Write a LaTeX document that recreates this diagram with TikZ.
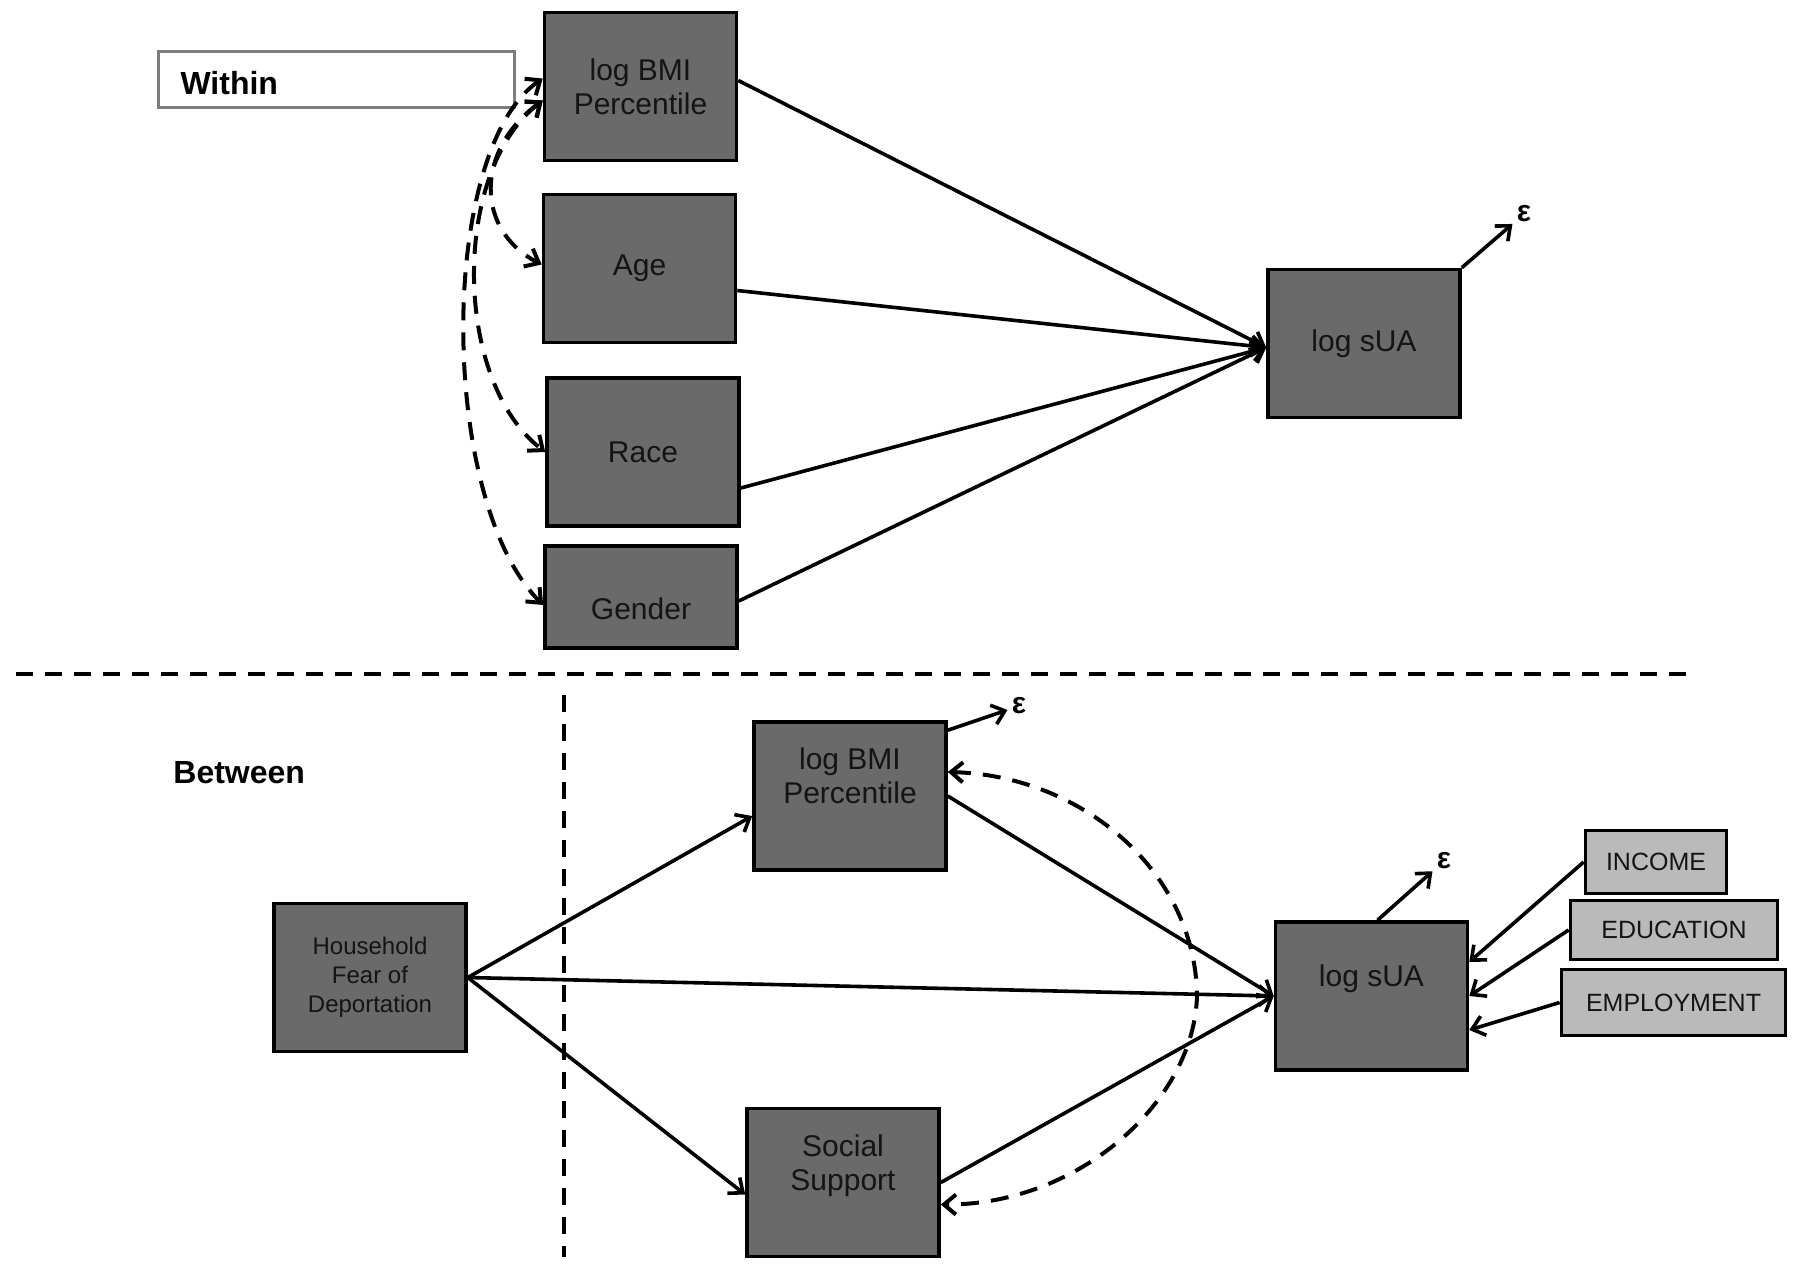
\documentclass[tikz,border=0pt]{standalone}
\usepackage{fontspec}
\setmainfont{Liberation Sans}
\usetikzlibrary{arrows.meta}
\definecolor{boxgrey}{RGB}{106,106,106}
\definecolor{lightgrey}{RGB}{186,186,186}
\definecolor{framegrey}{RGB}{125,125,125}
\newcommand{\shiftup}[2]{\raisebox{#1}[\height][\depth]{\begin{tabular}{@{}c@{}}#2\end{tabular}}}
\begin{document}
\begin{tikzpicture}[x=0.5pt,y=-0.5pt,
  box/.style={draw=black, line width=1.8pt, fill=boxgrey, minimum width=96pt, minimum height=74pt, inner sep=0pt, align=center, text=black!92, font=\fontsize{15}{17}\selectfont},
  lbox/.style={draw=black, line width=1.9pt, fill=lightgrey, inner sep=0pt, align=center, text=black!92, font=\fontsize{12.5}{15}\selectfont},
  wbox/.style={draw=framegrey, line width=1.4pt, fill=white, minimum width=178pt, minimum height=28pt, text width=156pt, inner xsep=11pt, inner ysep=0pt, align=left, font=\bfseries\fontsize{16}{19}\selectfont},
  arr/.style={line width=1.8pt, -{Straight Barb[length=6pt,width=10pt]}},
  cov/.style={line width=2pt, dash pattern=on 9pt off 6pt, {Straight Barb[length=6pt,width=10pt]}-{Straight Barb[length=6pt,width=10pt]}},
  divider/.style={line width=1.6pt, dash pattern=on 8.5pt off 6pt},
  epsnode/.style={inner sep=2pt, font=\bfseries\fontsize{15}{17}\selectfont},
]
\useasboundingbox (0,0) rectangle (1800,1271);

% ---------- Within ----------
\node[wbox] (within) at (336.5,79.5) {\raisebox{-2pt}[\height][\depth]{Within}};
\node[box] (bmiT) at (640.5,86.5) {log BMI\\Percentile};
\node[box] (ageT) at (639.5,268.5) {Age};
\node[box] (raceT) at (643,452) {Race};
\node[box, minimum height=51pt] (genT) at (641,597) {\shiftup{-8pt}{Gender}};
\node[box] (suaT) at (1364,343.5) {log sUA};
\node[epsnode] (epsT) at (1524,214) {ε};

\draw[arr] ([yshift=3pt]bmiT.east) -- ([yshift=-2pt]suaT.west);
\draw[arr] ([yshift=-11pt]ageT.east) -- ([yshift=-2pt]suaT.west);
\draw[arr] ([yshift=-18pt]raceT.east) -- ([yshift=-2pt]suaT.west);
\draw[arr] ([yshift=-2pt]genT.east) -- ([yshift=-2pt]suaT.west);
\draw[arr] (suaT.north east) -- (epsT);

\draw[cov] ([yshift=-7pt]bmiT.west) .. controls (475,150) and (475,230) .. ([yshift=2pt]ageT.west);
\draw[cov] ([yshift=-7pt]bmiT.west) .. controls (452,170) and (452,380) .. (raceT.west);
\draw[cov] ([yshift=4pt]bmiT.west) .. controls (438,150) and (438,500) .. ([yshift=-4pt]genT.west);

% ---------- dividers ----------
\coordinate (hl) at (16,674);
\coordinate (hr) at (1688,674);
\coordinate (vt) at (564,695);
\coordinate (vb) at (564,1257);
\draw[divider] (hl) -- (hr);
\draw[divider] (vt) -- (vb);

% ---------- Between ----------
\node[anchor=west, inner sep=0pt, font=\bfseries\fontsize{16}{19}\selectfont] (between) at (173,773) {Between};
\node[box] (bmiB) at (850,796) {\shiftup{8pt}{log BMI\\Percentile}};
\node[box, font=\fontsize{12}{14.4}\selectfont] (hh) at (370,977.5) {Household\\Fear of\\Deportation};
\node[box] (ss) at (843,1182.5) {\shiftup{8pt}{Social\\Support}};
\node[box] (suaB) at (1371.5,996) {\shiftup{8pt}{log sUA}};
\node[lbox, minimum width=70.5pt, minimum height=31.5pt] (inc) at (1656,862) {INCOME};
\node[lbox, minimum width=103.5pt, minimum height=29.5pt] (edu) at (1674,930) {EDUCATION};
\node[lbox, minimum width=112pt, minimum height=33pt] (emp) at (1673.5,1002.5) {EMPLOYMENT};
\node[epsnode] (epsB1) at (1019,706) {ε};
\node[epsnode] (epsB2) at (1444,861) {ε};

\draw[arr] (hh.east) -- ([yshift=-10pt]bmiB.west);
\draw[arr] (hh.east) -- (suaB.west);
\draw[arr] (hh.east) -- ([yshift=-6pt]ss.west);
\draw[arr] (bmiB.east) -- (suaB.west);
\draw[arr] (ss.east) -- (suaB.west);
\draw[arr] (inc.west) -- ([yshift=17pt]suaB.east);
\draw[arr] (edu.west) -- (suaB.east);
\draw[arr] (emp.west) -- ([yshift=-17pt]suaB.east);
\draw[arr] ([yshift=-5pt]bmiB.north east) -- (epsB1);
\draw[arr] ([xshift=3pt]suaB.north) -- (epsB2);

\draw[cov] ([yshift=12pt]bmiB.east) .. controls (1080,775) and (1195,870) .. (1197,995)
  .. controls (1195,1100) and (1080,1205) .. ([yshift=-11pt]ss.east);
\end{tikzpicture}
\end{document}
